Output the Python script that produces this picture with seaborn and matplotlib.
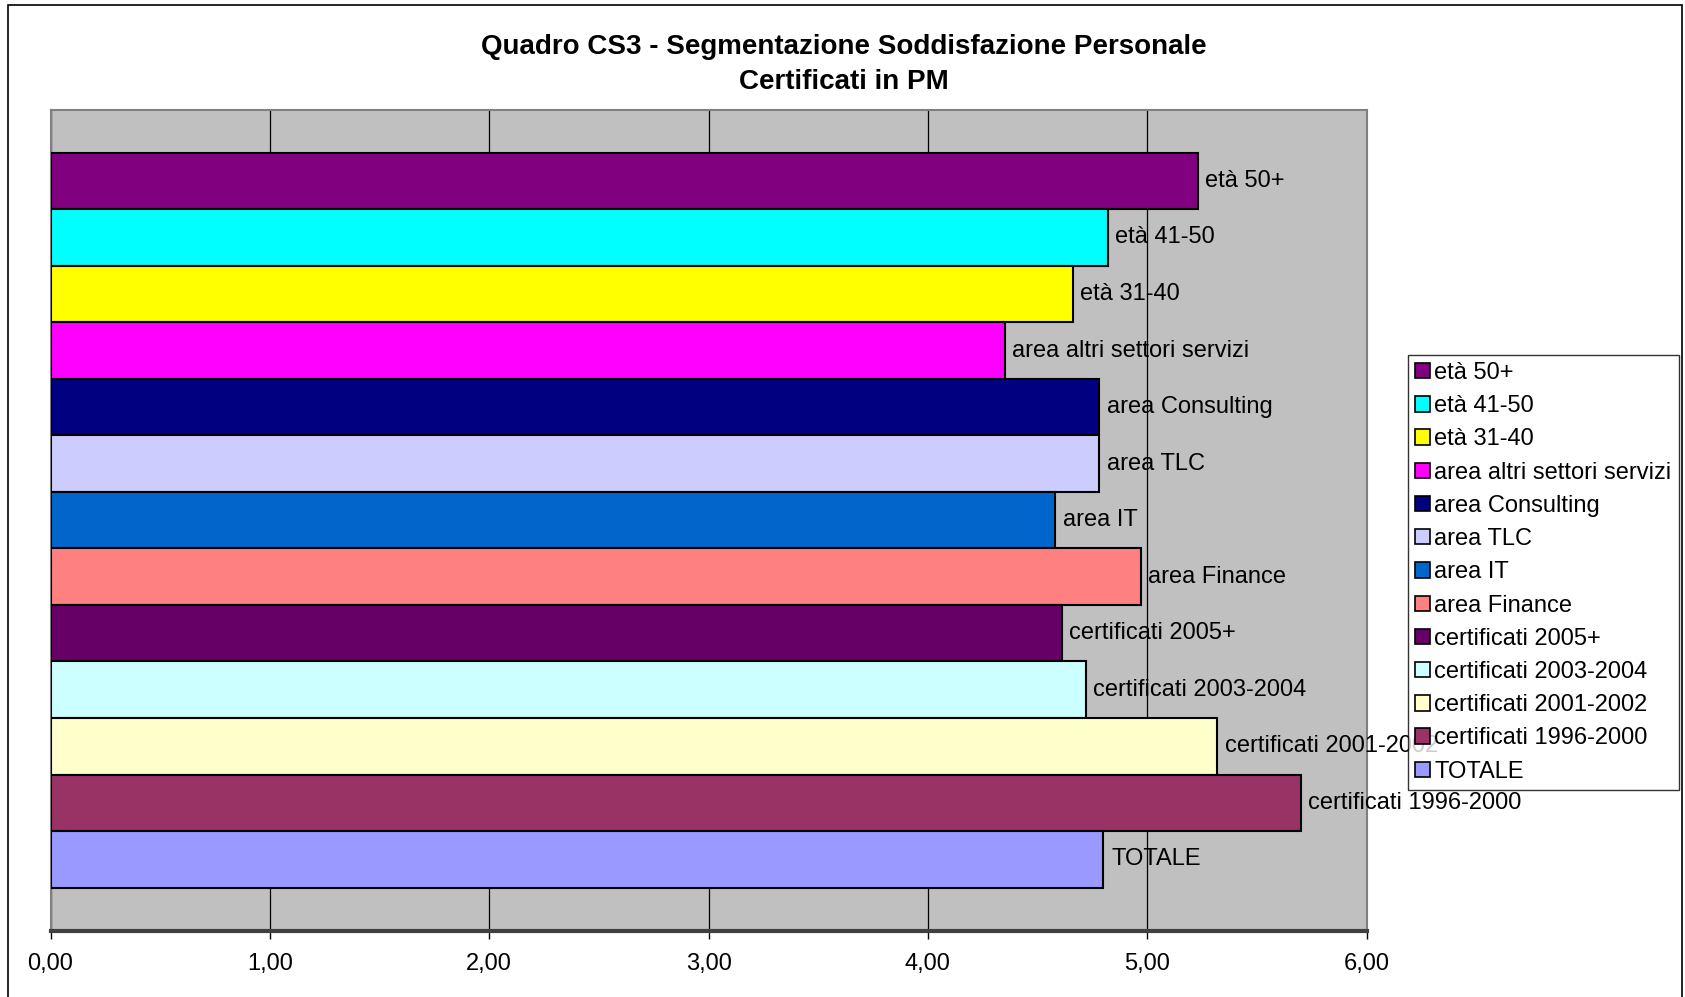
import matplotlib
matplotlib.use("Agg")
import matplotlib.pyplot as plt
import seaborn as sns
from matplotlib.patches import Patch, Rectangle

# data
labels = ["età 50+", "età 41-50", "età 31-40", "area altri settori servizi",
          "area Consulting", "area TLC", "area IT", "area Finance",
          "certificati 2005+", "certificati 2003-2004", "certificati 2001-2002",
          "certificati 1996-2000", "TOTALE"]
values = [5.23, 4.82, 4.66, 4.35, 4.78, 4.78, 4.58, 4.97, 4.61, 4.72, 5.32, 5.70, 4.80]
colors = ["#800080", "#00FFFF", "#FFFF00", "#FF00FF", "#000080", "#CCCCFF",
          "#0066CC", "#FF8080", "#660066", "#CCFFFF", "#FFFFCC", "#993366", "#9999FF"]
xticks = [0, 1, 2, 3, 4, 5, 6]
xtick_labels = ["0,00", "1,00", "2,00", "3,00", "4,00", "5,00", "6,00"]

sns.set_style("white")
plt.rcParams['font.family'] = ['Liberation Sans', 'DejaVu Sans']
plt.rcParams['text.color'] = 'black'
plt.rcParams['xtick.color'] = 'black'
plt.rcParams['xtick.labelcolor'] = 'black'

fig = plt.figure(figsize=(16.85, 9.97), dpi=100)
ax = fig.add_axes([0.030, 0.0666, 0.781, 0.8234])
ax.set_facecolor("#C0C0C0")

sns.barplot(x=values, y=labels, hue=labels, palette=colors, orient="h",
            width=1.0, saturation=1, edgecolor="black", linewidth=1.5,
            legend=False, ax=ax, zorder=3)

ax.set_xlim(0, 6)
ax.set_ylim(12.5 + 0.76, -0.5 - 0.76)
ax.set_xticks(xticks)
ax.set_xticklabels(xtick_labels, fontsize=17)
ax.set_yticks([])
ax.set_xlabel("")
ax.set_ylabel("")
ax.grid(axis="x", color="black", linewidth=0.9, zorder=0)
ax.set_axisbelow(True)
ax.tick_params(axis="x", direction="out", length=6, width=1, color="black", pad=10,
               bottom=True)

for side in ["top", "right", "left"]:
    ax.spines[side].set_color("#808080")
    ax.spines[side].set_linewidth(1.5)
ax.spines["bottom"].set_color("#404040")
ax.spines["bottom"].set_linewidth(3)

# data labels (series names) next to each bar
for i, (lab, v) in enumerate(zip(labels, values)):
    ax.text(v + 0.035, i, lab, va="center", ha="left", fontsize=17,
            color="black", clip_on=False, zorder=4)

# title
fig.text(0.501, 0.953, "Quadro CS3 - Segmentazione Soddisfazione Personale",
         ha="center", va="center", fontsize=20, fontweight="bold")
fig.text(0.501, 0.918, "Certificati in PM", ha="center", va="center",
         fontsize=20, fontweight="bold")

# legend
handles = [Patch(facecolor=c, edgecolor="black", linewidth=1.2) for c in colors]
leg = fig.legend(handles, labels, loc="upper left", bbox_to_anchor=(0.8356, 0.644),
                 bbox_transform=fig.transFigure, fontsize=17, frameon=True,
                 fancybox=False, borderaxespad=0, borderpad=0.3,
                 handlelength=0.62, handleheight=0.62, handletextpad=0.2,
                 labelspacing=0.475)
leg.get_frame().set_edgecolor("black")
leg.get_frame().set_linewidth(1.0)
leg.set_zorder(10)

# chart area border
fig.add_artist(Rectangle((0.005, -0.05), 0.9935, 1.0446, transform=fig.transFigure,
                         fill=False, edgecolor="black", linewidth=1.2))

fig.savefig("out.png", dpi=100)
